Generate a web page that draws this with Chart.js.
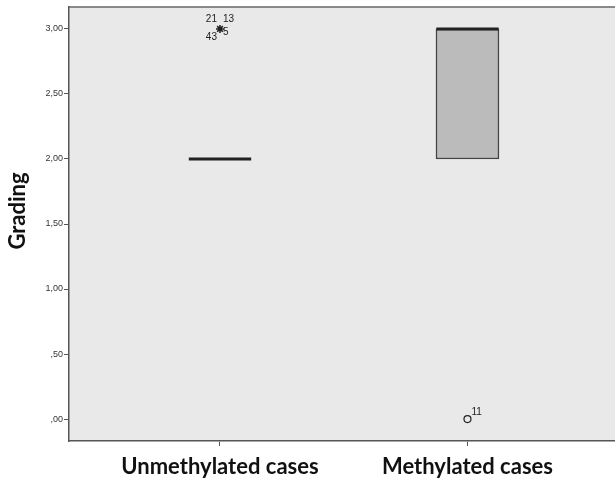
<!DOCTYPE html>
<html>
<head>
<meta charset="utf-8">
<script src="https://cdn.jsdelivr.net/npm/chart.js@4.4.1/dist/chart.umd.min.js"></script>
<style>
  html, body { margin: 0; padding: 0; background: #fff; }
  #wrap { width: 615px; height: 482px; }
</style>
</head>
<body>
<div id="wrap"><canvas id="boxChart" width="615" height="482"></canvas></div>
<script>
// Grading by methylation status (SPSS-style boxplot)
const categories = ["Unmethylated cases", "Methylated cases"];
const groupPos = [1, 2];
const q1 = [2, 2];
const median = [2, 3];
const q3 = [2, 3];
const outlierValues = [3, 0];
const outlierGroup = [0, 1];
const outlierStyle = ["star", "circle"];
const outlierLabels = [["21", "13", "43", "5"], ["11"]];
const yTicks = [0, 0.5, 1, 1.5, 2, 2.5, 3];
const yTitle = "Grading";

const halfWidth = 0.126;

function fmt(v) {
  let s = v.toFixed(2).replace(".", ",");
  if (s.startsWith("0")) s = s.slice(1);
  return s;
}

// median segments, split by null
const medianPts = [];
groupPos.forEach((x, i) => {
  medianPts.push({ x: x - halfWidth, y: median[i] });
  medianPts.push({ x: x + halfWidth, y: median[i] });
  medianPts.push({ x: x, y: null });
});

const outlierPts = outlierValues.map((v, i) => ({ x: groupPos[outlierGroup[i]], y: v }));

const frame = {
  id: "frame",
  beforeDraw(chart) {
    const { ctx, chartArea: a } = chart;
    ctx.save();
    ctx.fillStyle = "#e9e9e9";
    ctx.fillRect(a.left, a.top, a.right - a.left, a.bottom - a.top);
    ctx.restore();
  },
  afterDraw(chart) {
    const { ctx, chartArea: a, scales } = chart;
    ctx.save();
    // top frame line
    ctx.strokeStyle = "#666";
    ctx.lineWidth = 1.5;
    ctx.beginPath();
    ctx.moveTo(a.left, a.top);
    ctx.lineTo(a.right, a.top);
    ctx.stroke();
    // y title
    ctx.fillStyle = "#111";
    ctx.font = "bold 22px Lato, sans-serif";
    ctx.textAlign = "center";
    ctx.textBaseline = "middle";
    ctx.translate(18, 211);
    ctx.rotate(-Math.PI / 2);
    ctx.fillText(yTitle, 0, 0);
    ctx.setTransform(1, 0, 0, 1, 0, 0);
    // outlier case numbers
    ctx.fillStyle = "#222";
    ctx.font = "10px 'Liberation Sans', Arial, sans-serif";
    outlierPts.forEach((p, i) => {
      const px = scales.x.getPixelForValue(p.x);
      const py = scales.y.getPixelForValue(p.y);
      const labs = outlierLabels[i];
      if (labs.length === 4) {
        ctx.textAlign = "right";
        ctx.fillText(labs[0], px - 3, py - 10);
        ctx.fillText(labs[2], px - 3, py + 8);
        ctx.textAlign = "left";
        ctx.fillText(labs[1], px + 3, py - 10);
        ctx.fillText(labs[3], px + 3, py + 3);
      } else {
        ctx.textAlign = "left";
        ctx.fillText(labs[0], px + 4, py - 7);
      }
    });
    ctx.restore();
  }
};

new Chart(document.getElementById("boxChart"), {
  type: "bar",
  data: {
    datasets: [
      {
        type: "bar",
        data: groupPos.map((x, i) => ({ x: x, y: [q1[i], q3[i]] })),
        backgroundColor: "#bbbbbb",
        borderColor: "#444",
        borderWidth: 1.5,
        borderSkipped: false,
        barThickness: 63,
        order: 3
      },
      {
        type: "line",
        data: medianPts,
        borderColor: "#222",
        borderWidth: 3,
        pointRadius: 0,
        spanGaps: false,
        order: 1
      },
      {
        type: "scatter",
        data: outlierPts,
        pointStyle: outlierStyle,
        pointRadius: [4, 3.5],
        borderColor: "#222",
        backgroundColor: "rgba(0,0,0,0)",
        borderWidth: [1.6, 1.2],
        order: 0
      }
    ]
  },
  options: {
    responsive: false,
    animation: false,
    layout: { autoPadding: false, padding: { top: 7, right: 0, left: 0, bottom: 0 } },
    plugins: { legend: { display: false }, tooltip: { enabled: false } },
    scales: {
      x: {
        type: "linear",
        min: 0.39,
        max: 2.596,
        offset: false,
        afterBuildTicks: s => { s.ticks = groupPos.map(v => ({ value: v })); },
        afterFit: s => { s.height = 41; s.paddingLeft = 0; s.paddingRight = 0; },
        border: { display: true, color: "#555", width: 1.5 },
        grid: { offset: false, drawOnChartArea: false, drawTicks: true, tickLength: 5, color: "#555" },
        ticks: {
          callback: v => categories[groupPos.indexOf(v)],
          color: "#111",
          padding: 8,
          maxRotation: 0,
          font: { family: "Lato", size: 22, weight: "bold" }
        }
      },
      y: {
        min: -0.169,
        max: 3.169,
        afterBuildTicks: s => { s.ticks = yTicks.map(v => ({ value: v })); },
        afterFit: s => { s.width = 69; s.paddingTop = 0; s.paddingBottom = 0; },
        border: { display: true, color: "#555", width: 1.5 },
        grid: { drawOnChartArea: false, drawTicks: true, tickLength: 5, color: "#555" },
        ticks: {
          callback: v => fmt(v),
          color: "#333",
          padding: 1,
          font: { family: "'Liberation Sans', Arial, sans-serif", size: 9 }
        }
      }
    }
  },
  plugins: [frame]
});
</script>
</body>
</html>
